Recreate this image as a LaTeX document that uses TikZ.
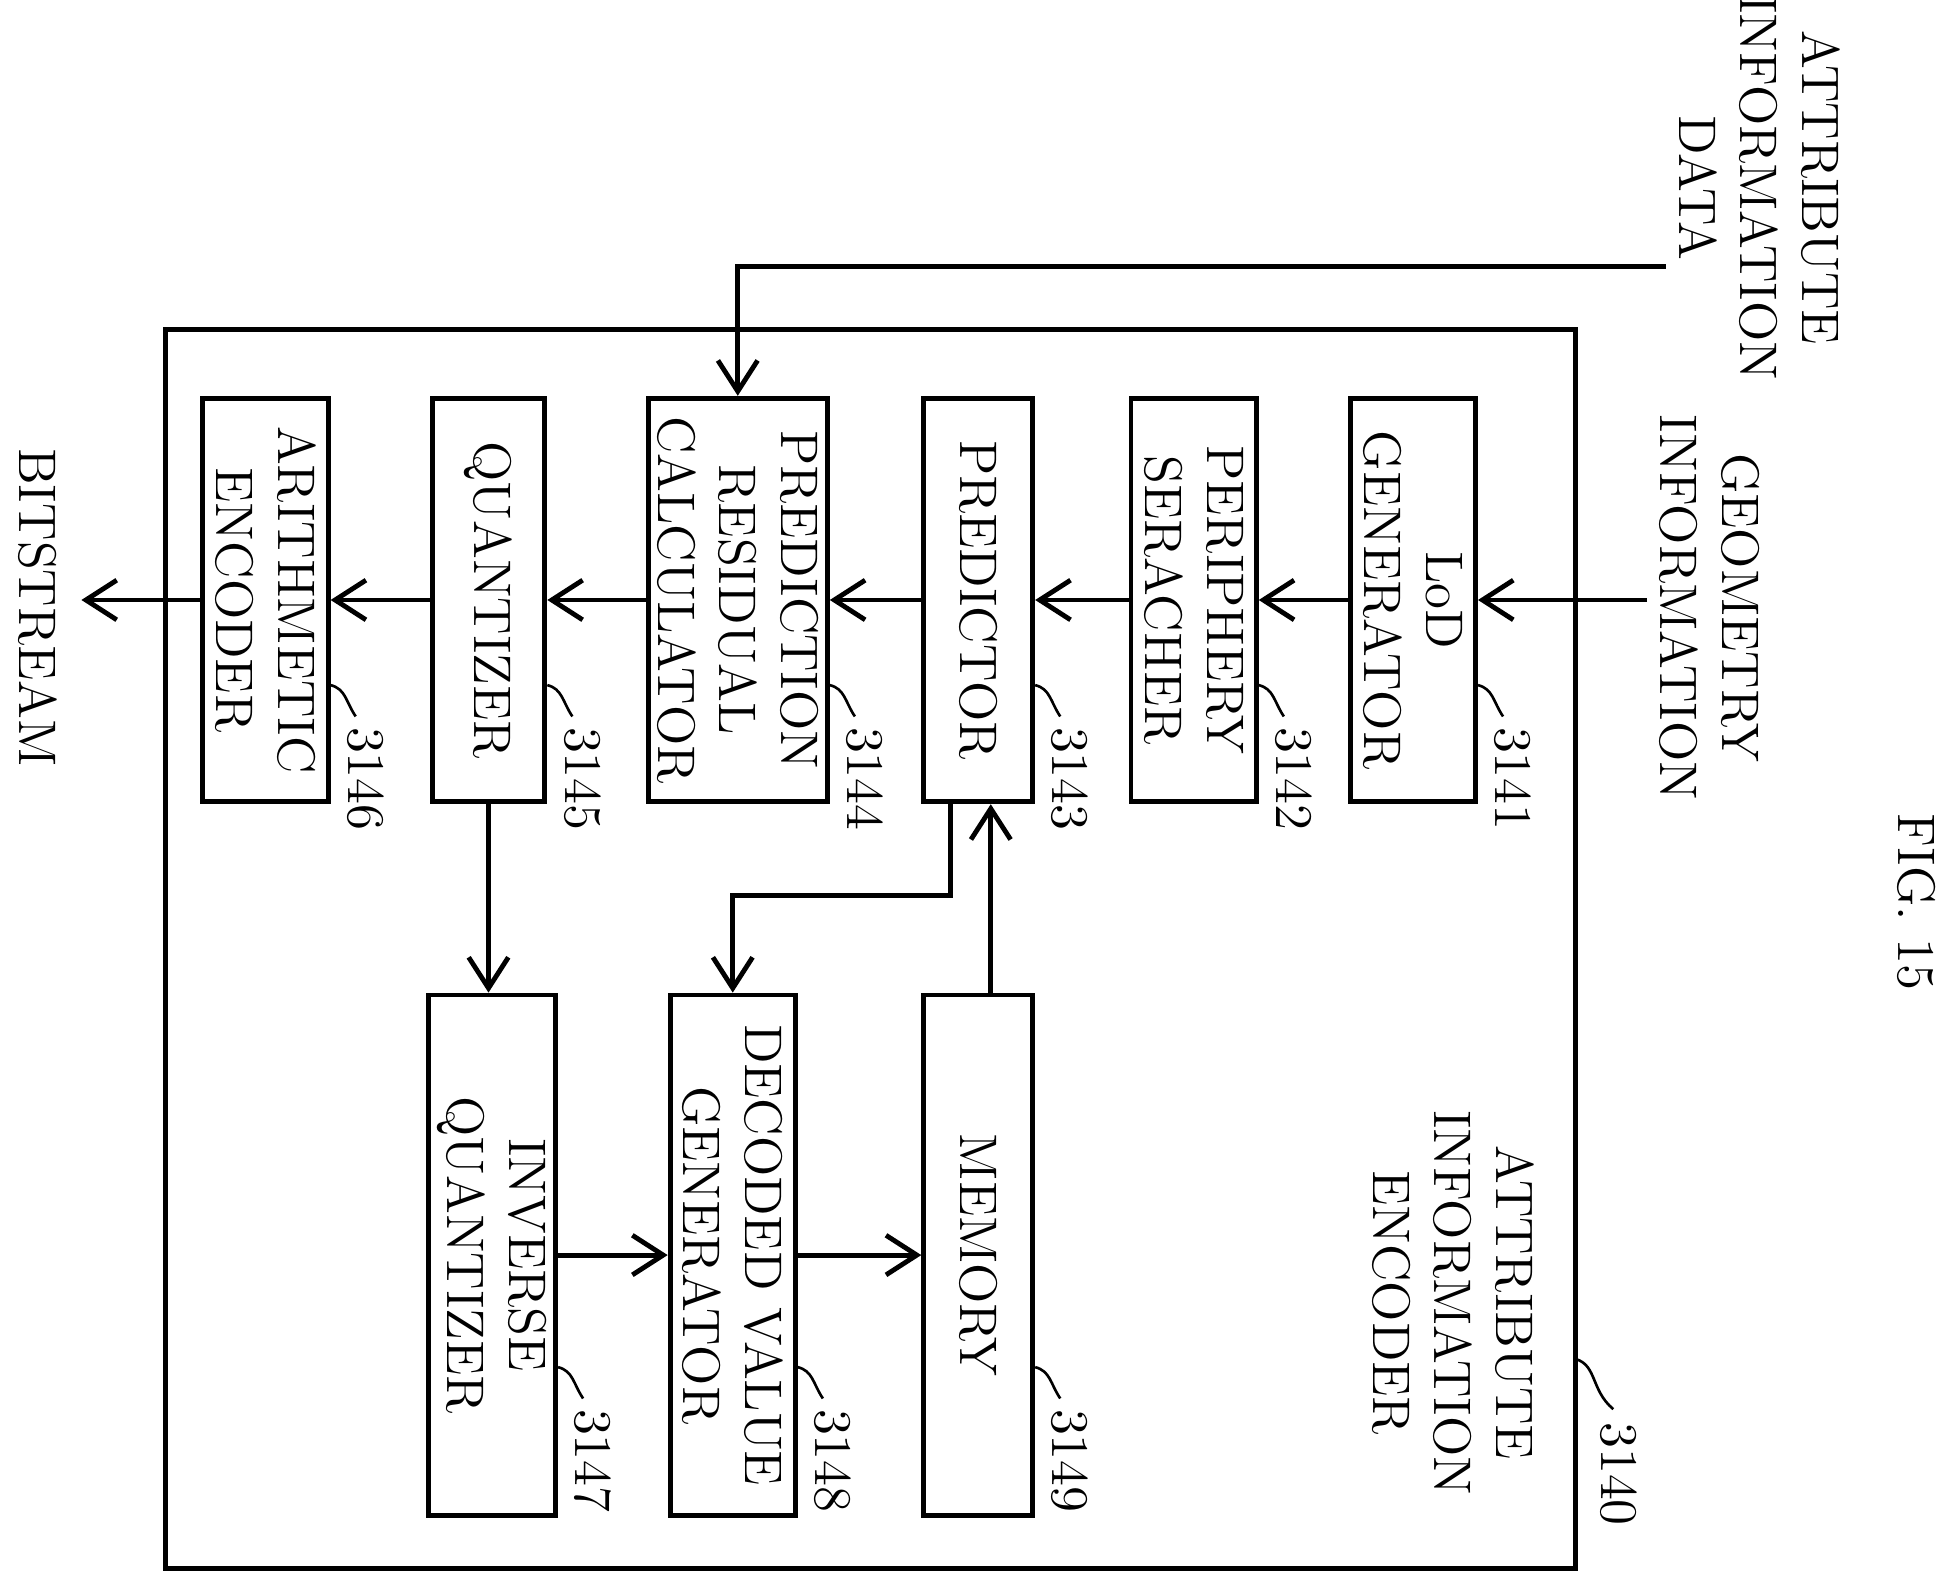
\documentclass[tikz,border=0pt]{standalone}
\usetikzlibrary{positioning,arrows.meta}
\begin{document}
\begin{tikzpicture}[x=0.01cm,y=-0.01cm,
    line width=1.1pt,
    blk/.style={draw,rotate=-90,align=center,inner sep=2pt,font=\large},
    lbl/.style={rotate=-90,align=center,font=\large,inner sep=1pt},
    num/.style={rotate=-90,font=\large,inner sep=1pt},
    arr/.style={-{Straight Barb[length=7pt,width=9pt]}}]
    \useasboundingbox (0,0) rectangle (1560,1272);

    % Outer encoder box
    \draw (132,263) rectangle (1258,1252);
    \node[lbl] (enc) at (1160,1040) {ATTRIBUTE\\INFORMATION\\ENCODER};
    \node[num,anchor=west] (n3140) at (1292,1130) {3140};
    \draw[line width=0.6pt] (1258,1085) .. controls (1275,1090) and (1270,1110) .. (1288,1125);

    % Upper row of blocks
    \node[blk,minimum width=3.22cm,minimum height=1.0cm] (lod) at (1128,479) {LoD\\GENERATOR};
    \node[blk,minimum width=3.22cm,minimum height=1.0cm] (peri) at (953,479) {PERIPHERY\\SERACHER};
    \node[blk,minimum width=3.22cm,minimum height=0.87cm] (pred) at (781,479) {PREDICTOR};
    \node[blk,minimum width=3.22cm,minimum height=1.42cm] (resid) at (589,479) {PREDICTION\\RESIDUAL\\CALCULATOR};
    \node[blk,minimum width=3.22cm,minimum height=0.9cm] (quant) at (390,479) {QUANTIZER};
    \node[blk,minimum width=3.22cm,minimum height=1.0cm] (arith) at (212,479) {ARITHMETIC\\ENCODER};

    % Lower row of blocks
    \node[blk,minimum width=4.15cm,minimum height=0.87cm] (mem) at (781,1002) {MEMORY};
    \node[blk,minimum width=4.15cm,minimum height=1.0cm] (decv) at (585,1002) {DECODED VALUE\\GENERATOR};
    \node[blk,minimum width=4.15cm,minimum height=1.0cm] (invq) at (393,1002) {INVERSE\\QUANTIZER};

    % Reference numbers
    \foreach \b/\n in {lod/3141,peri/3142,pred/3143,resid/3144,quant/3145,arith/3146} {
        \draw[line width=0.6pt] ([yshift=0.95cm]\b.north east) .. controls +(12,3) and +(-8,-12) .. +(20,25) coordinate (c\n);
        \node[num,anchor=west] (n\n) at ([shift={(8,3)}]c\n) {\n};
    }
    \foreach \b/\n in {mem/3149,decv/3148,invq/3147} {
        \draw[line width=0.6pt] ([yshift=1.2cm]\b.north east) .. controls +(12,3) and +(-8,-12) .. +(20,25) coordinate (c\n);
        \node[num,anchor=west] (n\n) at ([shift={(8,3)}]c\n) {\n};
    }

    % Inputs and outputs
    \node[lbl] (geo) at (1365,485) {GEOMETRY\\INFORMATION};
    \node[lbl] (attr) at (1405,150) {ATTRIBUTE\\INFORMATION\\DATA};
    \node[lbl] (bits) at (30,485) {BITSTREAM};
    \node[lbl] (fig) at (1530,720) {FIG. 15};
    \coordinate (gin) at (1315,479);
    \coordinate (ain) at (1330,213);
    \coordinate (bout) at (65,479);

    % Connectors
    \draw[arr] (gin) -- (lod.north);
    \draw[arr] (lod.south) -- (peri.north);
    \draw[arr] (peri.south) -- (pred.north);
    \draw[arr] (pred.south) -- (resid.north);
    \draw[arr] (resid.south) -- (quant.north);
    \draw[arr] (quant.south) -- (arith.north);
    \draw[arr] (arith.south) -- (bout);
    \draw[arr] (ain) -| (resid.west);
    \draw[arr] (quant.east) -- (quant.east |- invq.west);
    \draw[arr] (invq.north) -- (decv.south);
    \draw[arr] (decv.north) -- (mem.south);
    \draw[arr] ([xshift=0.1cm]mem.west) -- ([xshift=0.1cm]mem.west |- pred.east);
    \draw[arr] ([xshift=-0.22cm]pred.east) |- (585,715) -- (decv.west);
\end{tikzpicture}
\end{document}
